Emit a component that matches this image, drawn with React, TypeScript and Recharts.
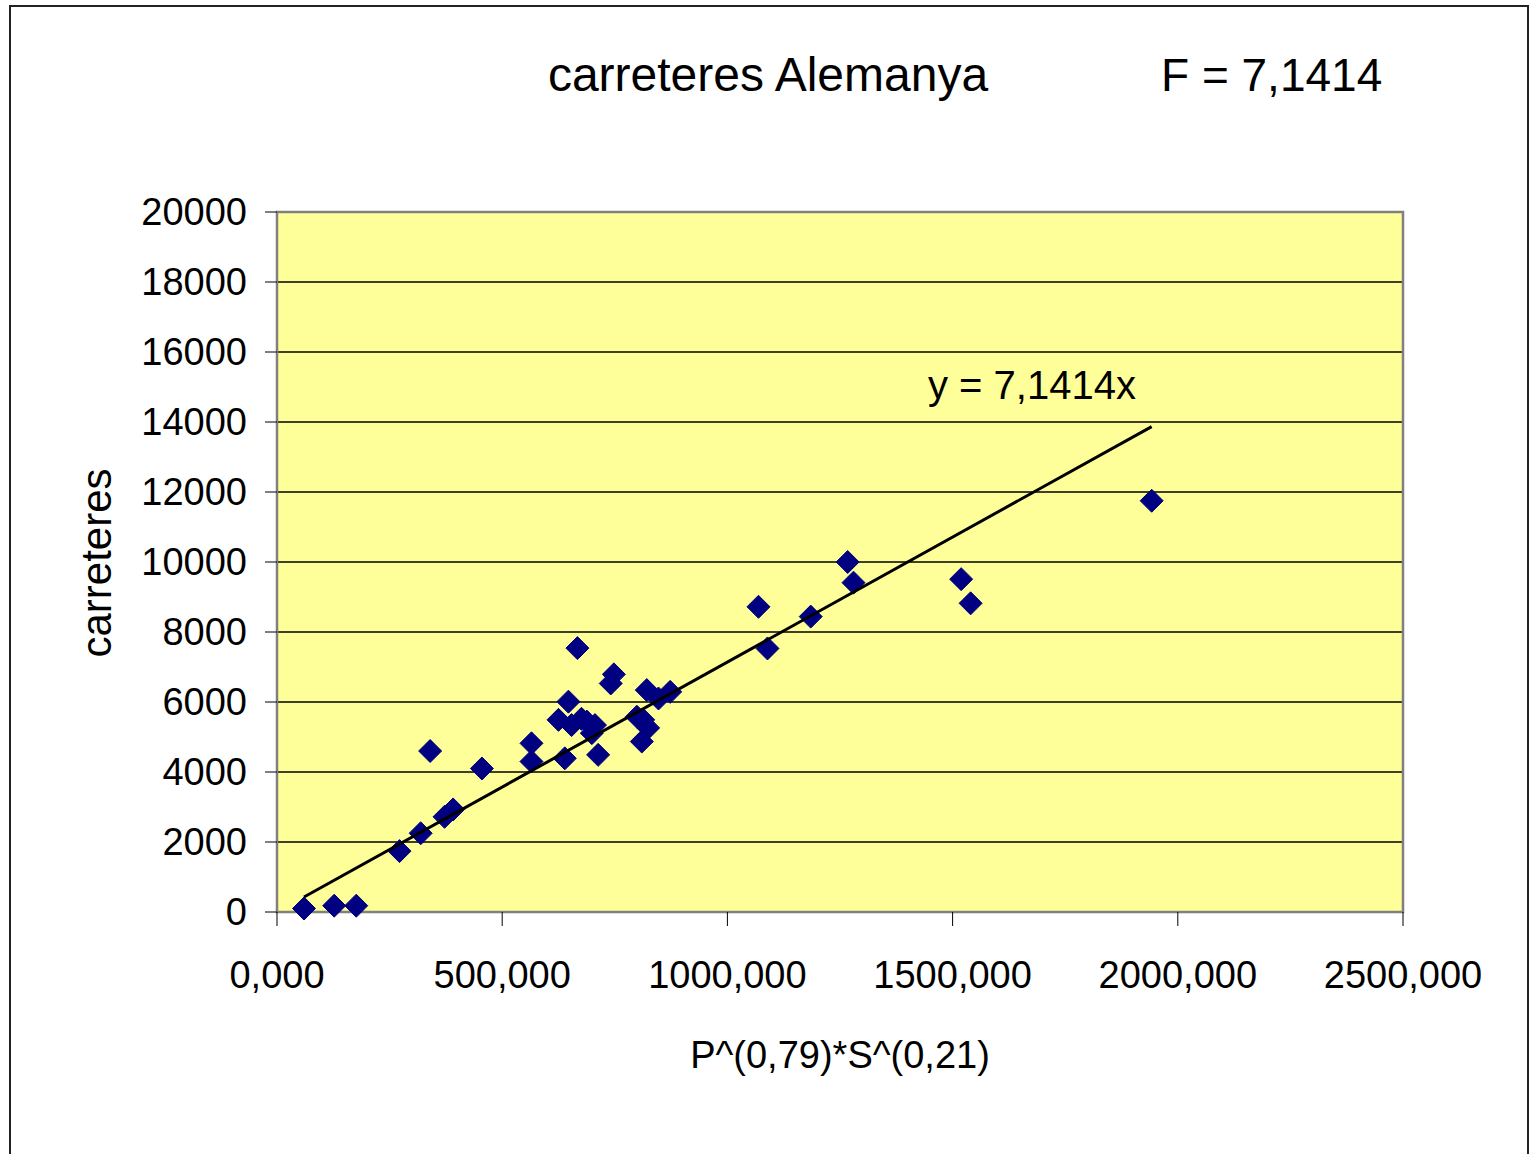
import React from "react";
import { ScatterChart, Scatter, XAxis, YAxis, CartesianGrid, ReferenceArea } from "recharts";

// P^(0,79)*S^(0,21) values
const X_VALUES = [
  60, 127, 176, 272, 319, 340, 372, 391, 455, 565, 565, 667, 647, 625, 654, 688, 706, 699, 639,
  713, 748, 741, 813, 799, 810, 821, 847, 873, 824, 676, 1069, 1185, 1089, 1267, 1280, 1519, 1540, 1942,
];
// carreteres
const Y_VALUES = [
  100, 180, 180, 1740, 2250, 4600, 2720, 2930, 4100, 4820, 4300, 7540, 6010, 5490, 5340, 5440, 5340, 5110, 4390,
  4490, 6790, 6530, 5490, 5580, 4870, 6340, 6100, 6290, 5260, 5520, 8720, 8440, 7530, 10000, 9410, 9510, 8820, 11750,
];
const SLOPE = 7.1414;
const TREND_X = [60, 1942];
const X_TICKS = [0, 500, 1000, 1500, 2000, 2500];
const Y_TICKS = [0, 2000, 4000, 6000, 8000, 10000, 12000, 14000, 16000, 18000, 20000];

const points = X_VALUES.map((x, i) => ({ x, y: Y_VALUES[i] }));
const trend = TREND_X.map((x) => ({ x, y: SLOPE * x }));

const FONT = '"Liberation Sans", Arial, sans-serif';
const R = 11.5;

const Diamond = (p: any) => (
  <polygon
    points={`${p.cx},${p.cy - R} ${p.cx + R},${p.cy} ${p.cx},${p.cy + R} ${p.cx - R},${p.cy}`}
    fill="#000080"
    stroke="#000080"
    strokeWidth={1}
    strokeLinejoin="round"
  />
);

export default function App() {
  return (
    <div style={{ position: "absolute", left: 0, top: 0, width: 1529, height: 1154, overflow: "hidden", background: "#fff", fontFamily: FONT }}>
      <div style={{ position: "absolute", left: 9, top: 5, width: 1516, height: 1200, border: "2px solid #222" }} />

      <ScatterChart
        width={1529}
        height={1154}
        margin={{ top: 212, right: 126, bottom: 182, left: 177 }}
        style={{ position: "absolute", left: 0, top: 0 }}
      >
        <CartesianGrid vertical={false} stroke="#000" strokeWidth={1.3} fill="#FFFF99" fillOpacity={1} />
        <ReferenceArea x1={0} x2={2500} y1={0} y2={20000} fill="none" stroke="#808080" strokeWidth={2.5} ifOverflow="visible" />
        <XAxis
          type="number"
          dataKey="x"
          domain={[0, 2500]}
          ticks={X_TICKS}
          interval={0}
          height={60}
          axisLine={false}
          tickLine={{ stroke: "#000" }}
          tickSize={14}
          tickMargin={35}
          tickFormatter={(v: number) => v.toFixed(3).replace(".", ",")}
          tick={{ fill: "#000", fontSize: 38, fontFamily: FONT }}
        />
        <YAxis
          type="number"
          dataKey="y"
          domain={[0, 20000]}
          ticks={Y_TICKS}
          interval={0}
          width={100}
          axisLine={false}
          tickLine={{ stroke: "#000" }}
          tickSize={12}
          tickMargin={18}
          tick={{ fill: "#000", fontSize: 38, fontFamily: FONT }}
        />
        <Scatter data={points} shape={Diamond} isAnimationActive={false} />
        <Scatter
          data={trend}
          line={{ stroke: "#000", strokeWidth: 3 }}
          shape={() => <g />}
          isAnimationActive={false}
        />
      </ScatterChart>

      <div style={{ position: "absolute", left: 468, top: 51, width: 600, textAlign: "center", fontSize: 48, lineHeight: "48px", color: "#000" }}>
        carreteres Alemanya
      </div>
      <div style={{ position: "absolute", left: 1161, top: 52, fontSize: 46, lineHeight: "46px", color: "#000", whiteSpace: "nowrap" }}>
        F = 7,1414
      </div>
      <div style={{ position: "absolute", left: 928, top: 365, fontSize: 40, lineHeight: "40px", color: "#000", whiteSpace: "nowrap" }}>
        y = 7,1414x
      </div>
      <div style={{ position: "absolute", left: 540, top: 1036, width: 600, textAlign: "center", fontSize: 38, lineHeight: "38px", color: "#000" }}>
        P^(0,79)*S^(0,21)
      </div>
      <div
        style={{
          position: "absolute",
          left: 97 - 150,
          top: 563 - 21,
          width: 300,
          textAlign: "center",
          fontSize: 42,
          lineHeight: "42px",
          color: "#000",
          transform: "rotate(-90deg)",
        }}
      >
        carreteres
      </div>
    </div>
  );
}
